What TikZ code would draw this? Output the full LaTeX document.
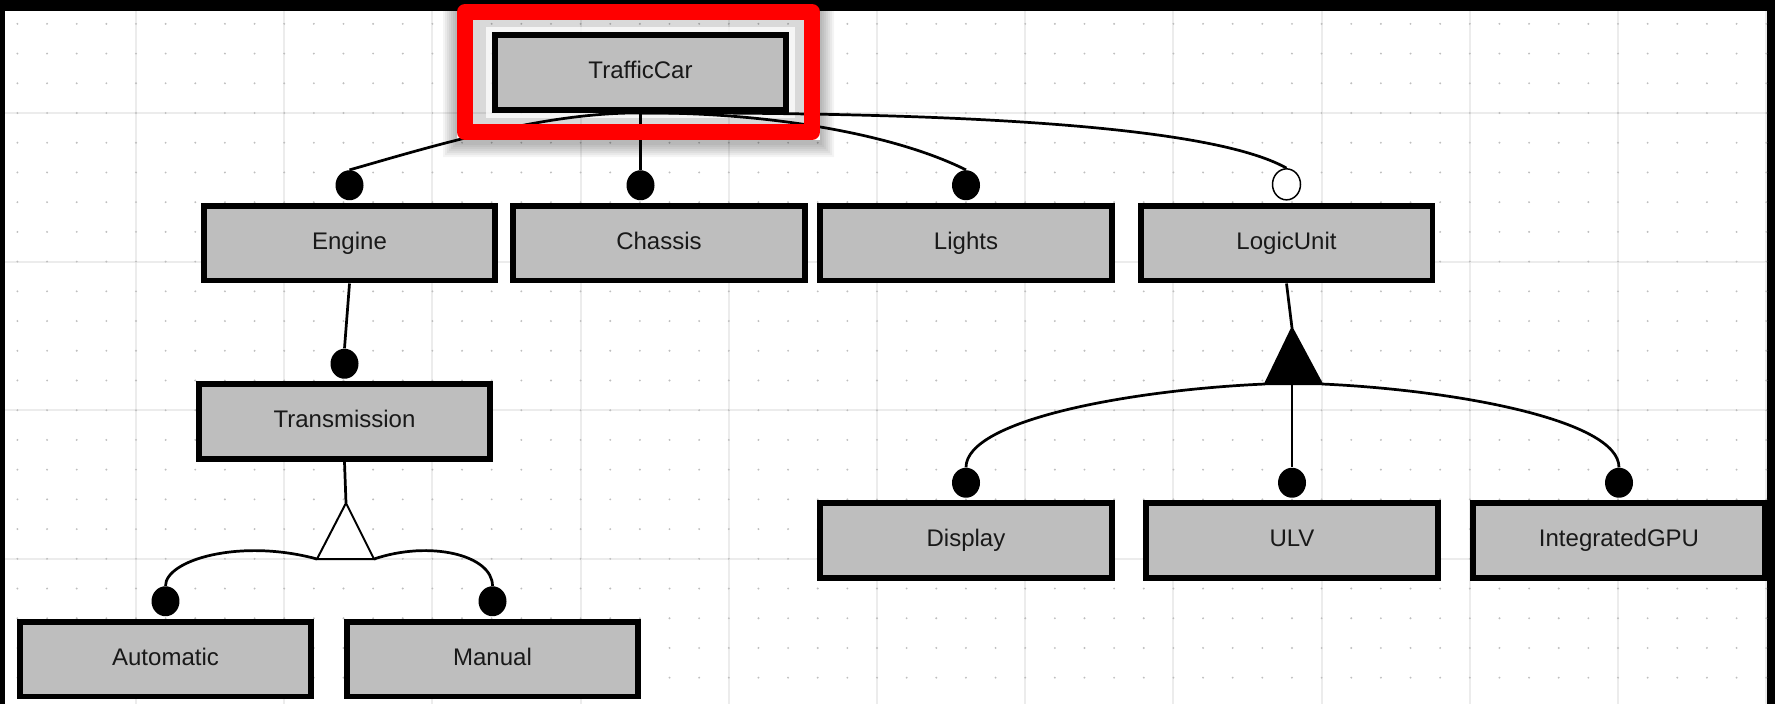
\documentclass[tikz,border=0pt]{standalone}
\usepackage{fontspec}
\setmainfont{Liberation Sans}
\usetikzlibrary{shapes.geometric}
\definecolor{featgray}{RGB}{190,190,190}
\definecolor{gridline}{RGB}{236,236,236}
\definecolor{griddot}{RGB}{190,190,190}
\definecolor{hlred}{RGB}{255,0,0}
\pgfdeclarelayer{gridlayer}
\pgfdeclarelayer{edgelayer}
\pgfsetlayers{gridlayer,edgelayer,main}
\begin{document}
\begin{tikzpicture}[x=0.02cm,y=-0.02cm,
  feature/.style={draw=black, fill=featgray, line width=3.4pt, minimum width=5.84cm, minimum height=1.5cm, inner sep=0pt, text height=10pt, text depth=3pt, font=\fontsize{13.66}{16}\selectfont, text=black!90},
  mand/.style={ellipse, fill=black, minimum width=0.56cm, minimum height=0.6cm, inner sep=0pt, yshift=1.1pt},
  opt/.style={ellipse, draw=black, line width=0.85pt, fill=white, minimum width=0.56cm, minimum height=0.62cm, inner sep=0pt, yshift=1.1pt},
  conn/.style={draw=black, line width=1.55pt},
  tri/.style={draw=black, line width=1.13pt, line join=miter}
]
\useasboundingbox (0,0) rectangle (1775,704);

% nodes
\node[feature] (TrafficCar) at (640.5,72.5) {TrafficCar};
\node[feature] (Engine) at (349.5,243) {Engine};
\node[feature] (Chassis) at (659,243) {Chassis};
\node[feature] (Lights) at (966,243) {Lights};
\node[feature] (LogicUnit) at (1286.5,243) {LogicUnit};
\node[feature] (Transmission) at (344.5,421.5) {Transmission};
\node[feature] (Automatic) at (165.5,659) {Automatic};
\node[feature] (Manual) at (492.5,659) {Manual};
\node[feature] (Display) at (966,540.5) {Display};
\node[feature] (ULV) at (1292,540.5) {ULV};
\node[feature] (IntegratedGPU) at (1619,540.5) {IntegratedGPU};

% decorators
\node[mand, anchor=south] (dEngine) at (Engine.north) {};
\node[mand, anchor=south] (dChassis) at (TrafficCar.south |- Chassis.north) {};
\node[mand, anchor=south] (dLights) at (Lights.north) {};
\node[opt, anchor=south] (dLogic) at (LogicUnit.north) {};
\node[mand, anchor=south] (dTrans) at (Transmission.north) {};
\node[mand, anchor=south] (dAuto) at (Automatic.north) {};
\node[mand, anchor=south] (dManual) at (Manual.north) {};
\node[mand, anchor=south] (dDisplay) at (Display.north) {};
\node[mand, anchor=south] (dULV) at (ULV.north) {};
\node[mand, anchor=south] (dGPU) at (IntegratedGPU.north) {};

% group triangles
\coordinate (altTop) at (346,503);
\coordinate (altL) at (317,559);
\coordinate (altR) at (374,559);
\coordinate (orTop) at (1292,328);
\coordinate (orL) at (1265,384);
\coordinate (orR) at (1322,384);
\coordinate (orMid) at (1292,384);
\draw[tri, fill=white] (altTop) -- (altL) -- (altR) -- cycle;
\draw[tri, fill=black] (orTop) -- (orL) -- (orR) -- cycle;

% highlight shadow and red frame
\foreach \d in {2,4,...,14} {
  \fill[black, opacity=0.045, even odd rule] ({457-\d},{4-\d+3}) rectangle ({820+\d},{140+\d+3}) (457,4) rectangle (820,140);
}
\draw[hlred, line width=9.07pt, line join=round] (465,12) rectangle (812,132);

\begin{pgfonlayer}{gridlayer}
  \fill[black] (0,0) rectangle (1775,704);
  \fill[white] (5,11) rectangle (1767,704);
  \foreach \k in {0,...,11} {
    \draw[gridline, line width=1.1pt] ({136+148.2*\k},11) -- ({136+148.2*\k},704);
  }
  \foreach \k in {0,...,3} {
    \draw[gridline, line width=1.1pt] (5,{113+148.6*\k}) -- (1767,{113+148.6*\k});
  }
  \foreach \i in {-4,...,55} {
    \foreach \j in {-3,...,19} {
      \fill[griddot] ({136+29.64*\i},{113+29.72*\j}) circle[radius=0.6pt];
    }
  }
  \fill[black, opacity=0.15] (472,20) rectangle (804,125);
  \fill[white, opacity=0.75] (486,27) rectangle (795,118);
\end{pgfonlayer}

\begin{pgfonlayer}{edgelayer}
  \draw[conn] (TrafficCar.south) .. controls (540,112) and (420,150) .. (dEngine.north);
  \draw[conn] (TrafficCar.south) -- (dChassis.north);
  \draw[conn] (TrafficCar.south) .. controls (760,112) and (890,132) .. (dLights.north);
  \draw[conn] (TrafficCar.south) .. controls (950,112) and (1210,125) .. (dLogic.north);
  \draw[conn] (Engine.south) -- (dTrans.north);
  \draw[conn] (Transmission.south) -- (altTop);
  \draw[conn] (dAuto.north) .. controls (165.5,560) and (240,538) .. (altL);
  \draw[conn] (dManual.north) .. controls (492.5,555) and (430,540) .. (altR);
  \draw[conn] (LogicUnit.south) -- (orTop);
  \draw[conn] (orMid) -- (dULV.north);
  \draw[conn] (dDisplay.north) .. controls (966,420) and (1130,390) .. (orL);
  \draw[conn] (dGPU.north) .. controls (1619,420) and (1455,390) .. (orR);
\end{pgfonlayer}
\end{tikzpicture}
\end{document}
